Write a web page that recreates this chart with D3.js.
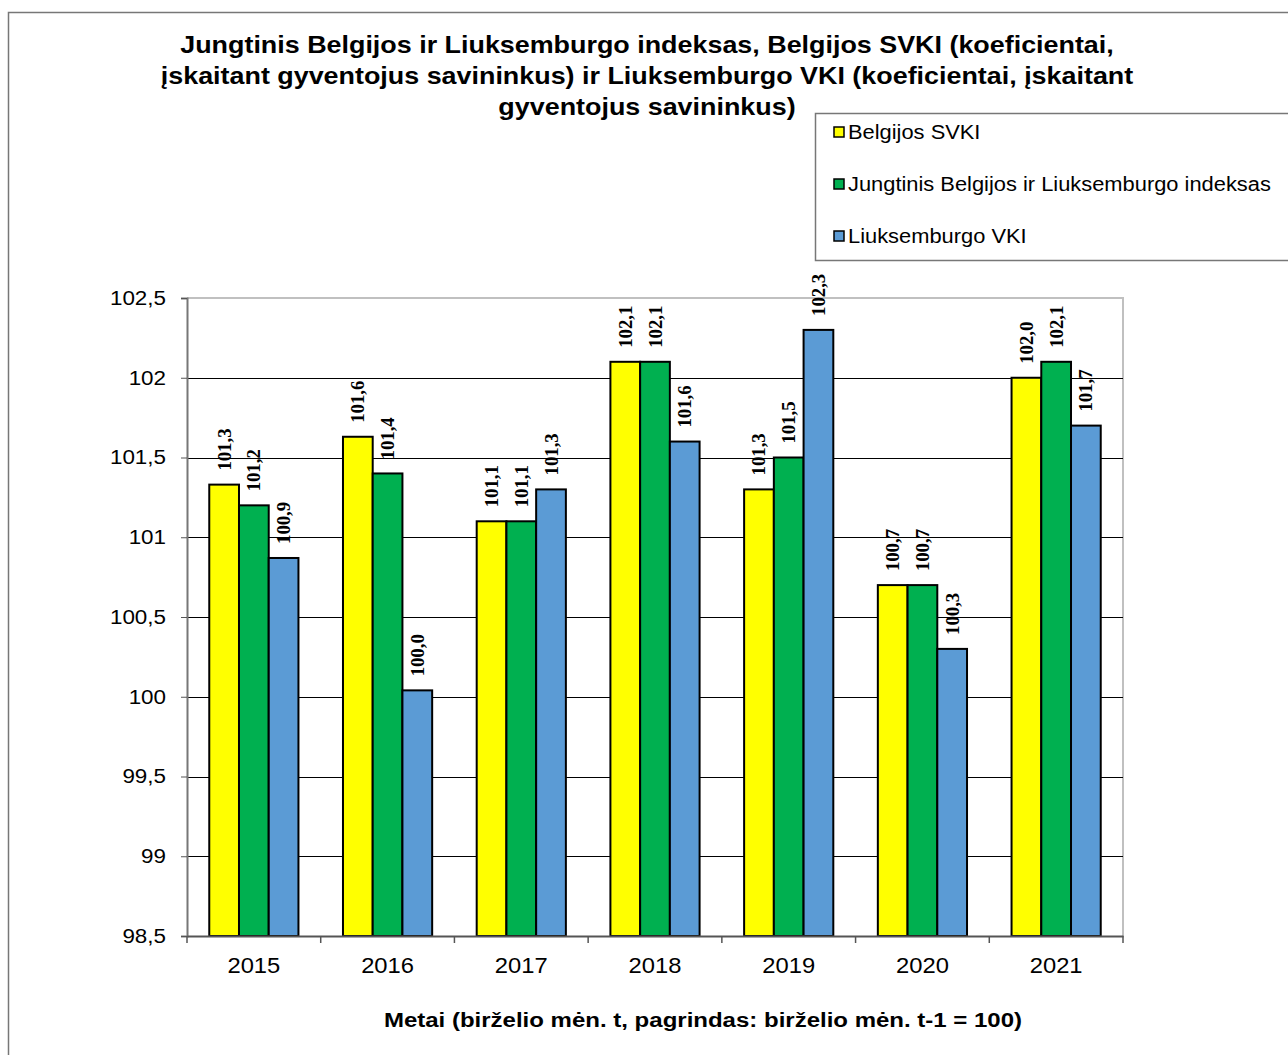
<!DOCTYPE html>
<html>
<head>
<meta charset="utf-8">
<script src="https://cdn.jsdelivr.net/npm/d3@7"></script>
<style>
  body { margin: 0; background: #fff; }
  svg { display: block; font-family: Arial, "Liberation Sans", sans-serif; }
</style>
</head>
<body>
<div class="chart"></div>
<script>
"use strict";

const years = ["2015", "2016", "2017", "2018", "2019", "2020", "2021"];
const series_names = ["Belgijos SVKI", "Jungtinis Belgijos ir Liuksemburgo indeksas", "Liuksemburgo VKI"];
const series_colors = ["#ffff00", "#00b050", "#5b9bd5"];
const belgium = [101.33, 101.63, 101.1, 102.1, 101.3, 100.7, 102.0];
const combined = [101.2, 101.4, 101.1, 102.1, 101.5, 100.7, 102.1];
const luxembourg = [100.87, 100.04, 101.3, 101.6, 102.3, 100.3, 101.7];
const y_ticks = [98.5, 99, 99.5, 100, 100.5, 101, 101.5, 102, 102.5];
const title_lines = [
    "Jungtinis Belgijos ir Liuksemburgo indeksas, Belgijos SVKI (koeficientai,",
    "įskaitant gyventojus savininkus) ir Liuksemburgo VKI (koeficientai, įskaitant",
    "gyventojus savininkus)"
];
const x_title = "Metai (birželio mėn. t, pagrindas: birželio mėn. t-1 = 100)";

window.onload = () => main();

// the source chart's text is a bit wider than Arial, so widen glyphs
function stretch(selection, factor) {
    selection.each(function() {
        const w = this.getComputedTextLength();
        d3.select(this)
            .attr("textLength", w * factor)
            .attr("lengthAdjust", "spacingAndGlyphs");
    });
}

function main() {
    const config = { width: 1288, height: 1055, left: 187, right: 1123, top: 298, bottom: 936 };
    const values = [belgium, combined, luxembourg];
    const fmt = (v) => v.toFixed(1).replace(".", ",");

    const svg = d3.select(".chart")
        .append("svg")
        .attr("width", config.width)
        .attr("height", config.height);

    // outer chart frame
    svg.append("rect")
        .attr("x", 8.5).attr("y", 12.5)
        .attr("width", 1300).attr("height", 1100)
        .attr("fill", "none").attr("stroke", "#777").attr("stroke-width", 1.5);

    const x = d3.scaleBand().domain(years).range([config.left, config.right]).paddingInner(0.333).paddingOuter(0.1665);
    const xs = d3.scaleBand().domain(d3.range(3)).range([0, x.bandwidth()]);
    const y = d3.scaleLinear().domain([98.5, 102.5]).range([config.bottom, config.top]);

    // plot frame (top/right light gray)
    svg.append("path")
        .attr("d", `M${config.left},${config.top}H${config.right}V${config.bottom}`)
        .attr("fill", "none").attr("stroke", "#c0c0c0").attr("stroke-width", 2);

    // gridlines
    svg.append("g").selectAll("line")
        .data(y_ticks.slice(1, -1))
        .enter().append("line")
        .attr("x1", config.left).attr("x2", config.right)
        .attr("y1", (d) => Math.round(y(d)) + 0.5).attr("y2", (d) => Math.round(y(d)) + 0.5)
        .attr("stroke", "#000").attr("stroke-width", 1);

    // bars
    years.forEach((yr, i) => {
        values.forEach((vals, s) => {
            const bx = x(yr) + xs(s);
            const g = svg.append("g");
            g.append("rect")
                .attr("x", bx).attr("y", y(vals[i]))
                .attr("width", xs.bandwidth()).attr("height", config.bottom - y(vals[i]))
                .attr("fill", series_colors[s]).attr("stroke", "#000").attr("stroke-width", 2);
            g.append("text")
                .attr("transform", `translate(${bx + xs.bandwidth() / 2 + 6.5},${y(vals[i]) - 14}) rotate(-90)`)
                .attr("font-family", "'Liberation Serif', 'Times New Roman', serif")
                .attr("font-weight", "bold").attr("font-size", 18)
                .text(fmt(vals[i]))
                .call(stretch, 1.04);
        });
    });

    // y axis
    const yAxis = svg.append("g")
        .attr("transform", `translate(${config.left},0)`)
        .call(d3.axisLeft(y).tickValues(y_ticks).tickSize(6).tickPadding(15)
            .tickFormat((d) => String(d).replace(".", ",")));
    yAxis.select(".domain").attr("stroke", "#777").attr("stroke-width", 2);
    yAxis.selectAll(".tick line").attr("stroke", "#555");
    yAxis.selectAll("text").attr("font-size", 20).attr("fill", "#000")
        .attr("font-family", "Arial, 'Liberation Sans', sans-serif")
        .call(stretch, 1.12);

    // x axis
    const xAxis = svg.append("g")
        .attr("transform", `translate(0,${config.bottom})`)
        .call(d3.axisBottom(x).tickSize(0).tickPadding(21));
    xAxis.select(".domain").attr("stroke", "#555").attr("stroke-width", 2);
    xAxis.selectAll("text").attr("font-size", 22).attr("fill", "#000")
        .attr("font-family", "Arial, 'Liberation Sans', sans-serif")
        .call(stretch, 1.08);
    const step = x.step();
    svg.append("g").selectAll("line")
        .data(d3.range(years.length + 1))
        .enter().append("line")
        .attr("x1", (d) => config.left + d * step).attr("x2", (d) => config.left + d * step)
        .attr("y1", config.bottom).attr("y2", config.bottom + 7)
        .attr("stroke", "#555").attr("stroke-width", 1.5);

    // title
    svg.append("g")
        .selectAll("text")
        .data(title_lines)
        .enter().append("text")
        .attr("text-anchor", "middle").attr("font-weight", "bold").attr("font-size", 24)
        .attr("x", 647).attr("y", (d, i) => 53 + i * 31)
        .text((d) => d)
        .call(stretch, 1.12);

    // x axis title
    svg.append("text")
        .attr("x", 703).attr("y", 1027)
        .attr("text-anchor", "middle").attr("font-weight", "bold").attr("font-size", 20)
        .text(x_title)
        .call(stretch, 1.2);

    // legend
    const legend = svg.append("g");
    legend.append("rect")
        .attr("x", 815.5).attr("y", 113.5).attr("width", 500).attr("height", 147)
        .attr("fill", "#fff").attr("stroke", "#777").attr("stroke-width", 1.5);
    series_names.forEach((name, s) => {
        const ly = 132 + s * 52;
        legend.append("rect")
            .attr("x", 834).attr("y", ly - 5).attr("width", 10).attr("height", 10)
            .attr("fill", series_colors[s]).attr("stroke", "#000").attr("stroke-width", 1.5);
        legend.append("text")
            .attr("x", 848).attr("y", ly + 7)
            .attr("font-size", 20)
            .text(name)
            .call(stretch, 1.093);
    });
}
</script>
</body>
</html>
